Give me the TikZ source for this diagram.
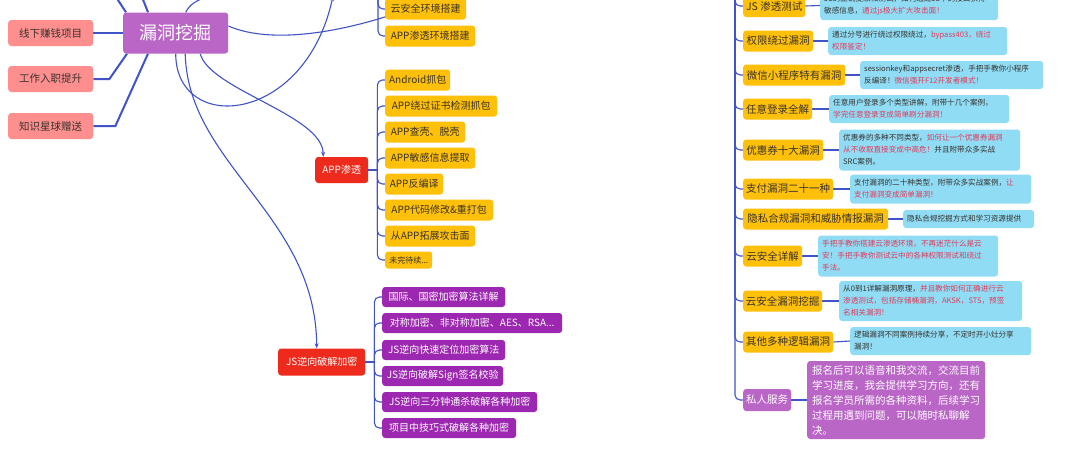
\documentclass[tikz,border=0pt]{standalone}
\usepackage{fontspec}
\setmainfont{Noto Sans CJK SC}
\usetikzlibrary{backgrounds,arrows.meta}
\newcommand{\myfs}[2]{\fontsize{#1}{#2}\selectfont}
\definecolor{lineblue}{RGB}{64,84,200}
\definecolor{salmon}{RGB}{255,143,143}
\definecolor{rootpurple}{RGB}{185,102,198}
\definecolor{redbox}{RGB}{238,42,28}
\definecolor{yel}{RGB}{255,192,10}
\definecolor{jspurple}{RGB}{156,39,176}
\definecolor{lightblue}{RGB}{144,220,245}
\definecolor{redtxt}{RGB}{226,58,88}
\definecolor{darktxt}{RGB}{55,50,45}
\newcommand{\redt}[1]{\textcolor{redtxt}{#1}}
\tikzset{
  conn/.style={draw=lineblue, line width=1.1pt},
  thickconn/.style={draw=lineblue, line width=2pt},
  arr/.style={conn, -{Stealth[length=5pt,width=4pt]}},
  box/.style={rounded corners=3pt, inner sep=0pt, align=center, anchor=west},
  leftbox/.style={box, fill=salmon, text=darktxt, minimum width=85pt, minimum height=26pt, font=\myfs{10.5}{12}},
  rootbox/.style={box, fill=rootpurple, text=white, minimum width=105pt, minimum height=41pt, font=\myfs{18}{20}},
  rednode/.style={box, fill=redbox, text=white, minimum height=26pt, font=\myfs{10}{12}},
  ybox/.style={box, fill=yel, text=darktxt, minimum height=21pt, font=\myfs{10}{12}},
  pbox/.style={box, fill=jspurple, text=white, minimum height=20pt, font=\myfs{10}{12}},
  rbox/.style={box, fill=yel, text=darktxt, minimum height=21pt, font=\myfs{10.5}{12}},
  desc/.style={box, fill=lightblue, text=darktxt, align=left, inner xsep=4pt, inner ysep=2pt, font=\myfs{7.6}{12}},
}
\begin{document}
\begin{tikzpicture}[x=1pt,y=-1pt]
\useasboundingbox (0,0) rectangle (1080,451);
\clip (0,0) rectangle (1080,451);
% left
\node[leftbox] (n1) at (8,33) {线下赚钱项目};
\node[leftbox] (n2) at (8,79) {工作入职提升};
\node[leftbox] (n3) at (8,126) {知识星球赠送};
\node[rootbox] (root) at (123,33) {漏洞挖掘};
% middle top
\node[ybox, minimum width=81pt] (yun) at (385,9) {云安全环境搭建};
\node[ybox, minimum width=90pt] (appenv) at (385,36) {APP渗透环境搭建};
% APP
\node[rednode, minimum width=53pt] (app) at (315,170) {APP渗透};
\node[ybox, minimum width=65pt] (a1) at (385,80) {Android抓包};
\node[ybox, minimum width=112pt] (a2) at (385,106) {APP绕过证书检测抓包};
\node[ybox, minimum width=80pt] (a3) at (385,132) {APP查壳、脱壳};
\node[ybox, minimum width=90pt] (a4) at (385,158) {APP敏感信息提取};
\node[ybox, minimum width=58pt] (a5) at (385,184) {APP反编译};
\node[ybox, minimum width=108pt] (a6) at (385,210) {APP代码修改\&重打包};
\node[ybox, minimum width=90pt] (a7) at (385,236) {从APP拓展攻击面};
\node[ybox, minimum width=47pt, minimum height=17pt, font=\myfs{8}{10}] (a8) at (385,260) {未完待续...};
% JS
\node[rednode, minimum width=87pt, minimum height=27pt] (js) at (278,362) {JS逆向破解加密};
\node[pbox, minimum width=123pt] (j1) at (382,297) {国际、国密加密算法详解};
\node[pbox, minimum width=180pt] (j2) at (382,323) {对称加密、非对称加密、AES、RSA...};
\node[pbox, minimum width=123pt] (j3) at (382,350) {JS逆向快速定位加密算法};
\node[pbox, minimum width=121pt] (j4) at (382,376) {JS逆向破解Sign签名校验};
\node[pbox, minimum width=155pt] (j5) at (382,402) {JS逆向三分钟通杀破解各种加密};
\node[pbox, minimum width=134pt] (j6) at (382,428) {项目中技巧式破解各种加密};
% right column
\node[rbox, minimum width=62pt, minimum height=22pt] (r1) at (743,6) {JS 渗透测试};
\node[rbox, minimum width=70pt] (r2) at (743,41) {权限绕过漏洞};
\node[rbox, minimum width=102pt] (r3) at (743,75) {微信小程序特有漏洞};
\node[rbox, minimum width=69pt] (r4) at (743,109) {任意登录全解};
\node[rbox, minimum width=80pt] (r5) at (743,150) {优惠券十大漏洞};
\node[rbox, minimum width=90pt] (r6) at (743,189) {支付漏洞二十一种};
\node[rbox, minimum width=145pt] (r7) at (743,219) {隐私合规漏洞和威胁情报漏洞};
\node[rbox, minimum width=59pt] (r8) at (743,256) {云安全详解};
\node[rbox, minimum width=79pt] (r9) at (743,301) {云安全漏洞挖掘};
\node[rbox, minimum width=90pt] (r10) at (743,342) {其他多种逻辑漏洞};
\node[rbox, fill=rootpurple, text=white, minimum width=48pt, minimum height=22pt] (r11) at (743,400) {私人服务};
% descriptions
\node[desc, text width=170pt, minimum height=29pt] (d1) at (820,5.5) {JS的正确提取和测试，如何通过JS中的接口获得\\敏感信息，\redt{通过js极大扩大攻击面！}};
\node[desc, text width=171pt, minimum height=28pt] (d2) at (828,41) {通过分号进行绕过权限绕过，\redt{bypass403，绕过}\\\redt{权限鉴定！}};
\node[desc, text width=175pt, minimum height=28pt] (d3) at (860,75) {sessionkey和appsecret渗透，手把手教你小程序\\反编译！\redt{微信强开F12开发者模式！}};
\node[desc, text width=172pt, minimum height=28pt] (d4) at (829,109) {任意用户登录多个类型讲解，附带十几个案例，\\\redt{学完任意登录变成简单刷分漏洞！}};
\node[desc, text width=173pt, minimum height=41pt] (d5) at (839,150) {优惠券的多种不同类型，\redt{如何让一个优惠券漏洞}\\\redt{从不收取直接变成中高危！}并且附带众多实战\\SRC案例。};
\node[desc, text width=173pt, minimum height=29pt] (d6) at (850,189) {支付漏洞的二十种类型，附带众多实战案例，\redt{让}\\\redt{支付漏洞变成简单漏洞！}};
\node[desc, text width=123pt, minimum height=18pt] (d7) at (903,219) {隐私合规挖掘方式和学习资源提供};
\node[desc, text width=172pt, minimum height=41pt, text=redtxt] (d8) at (818,256) {手把手教你搭建云渗透环境，不再迷茫什么是云\\安！手把手教你测试云中的各种权限测试和绕过\\手法。};
\node[desc, text width=175pt, minimum height=40pt] (d9) at (839,301) {从0到1详解漏洞原理，\redt{并且教你如何正确进行云}\\\redt{渗透测试，包括存储桶漏洞，AKSK，STS，预签}\\\redt{名相关漏洞！}};
\node[desc, text width=173pt, minimum height=28pt] (d10) at (850,341) {逻辑漏洞不同案例持续分享，不定时开小灶分享\\漏洞！};
\node[desc, fill=rootpurple, text=white, inner xsep=5pt, text width=168pt, minimum height=78pt, font=\myfs{10.5}{15}] (d11) at (807,400) {报名后可以语音和我交流，交流目前\\学习进度，我会提供学习方向，还有\\报名学员所需的各种资料，后续学习\\过程用遇到问题，可以随时私聊解\\决。};
% free ends
\coordinate (ul1) at (116,-3);
\coordinate (ul2) at (142,-3);
\coordinate (up3) at (206,-3);
\coordinate (upr) at (452,-8);
\coordinate (upa) at (333,-4);
\coordinate (rtop) at (735,-12);
\coordinate (mtop) at (378,-12);
\coordinate (appj) at ([xshift=9pt]app.east);
\coordinate (jsj) at ([xshift=9pt]js.east);
\begin{pgfonlayer}{background}
\fill[white] (0,0) rectangle (1080,451);
\draw[thickconn] (root.west) -- (n1.east);
\draw[thickconn] (n2.east) -- ++(16,0) -- ([xshift=4pt]root.south west);
\draw[thickconn] (n3.east) -- ++(22,0) -- ([xshift=25pt]root.south west);
\draw[thickconn] ([xshift=3pt]root.north west) -- (ul1);
\draw[thickconn] ([xshift=25pt]root.north west) -- (ul2);
\draw[conn] ([xshift=10pt]root.north) .. controls (190,4) and (196,1) .. (up3);
\draw[conn] ([yshift=7pt]root.east) .. controls (265,42) and (325,36) .. (388,16) .. controls (415,8) and (435,0) .. (upr);
\draw[arr] (root.south) .. controls (176,135) and (305,125) .. (upa);
\draw[arr] ([xshift=9.5pt]root.south) .. controls (188,165) and (316,215) .. ([xshift=-5pt]js.north);
\draw[arr] ([xshift=24.5pt]root.south) .. controls (210,90) and (323,115) .. ([xshift=-18.5pt]app.north);
\foreach \c in {yun,appenv} \draw[conn, rounded corners=5pt] (mtop) |- (\c.west);
\draw[conn] (app.east) -- (appj);
\foreach \c in {a1,a2,a3,a4,a5,a6,a7,a8} \draw[conn, rounded corners=5pt] (appj) |- (\c.west);
\draw[conn] (js.east) -- (jsj);
\foreach \c in {j1,j2,j3,j4,j5,j6} \draw[conn, rounded corners=5pt] (jsj) |- (\c.west);
\foreach \c in {r1,r2,r3,r4,r5,r6,r7,r8,r9,r10,r11} \draw[conn, rounded corners=5pt] (rtop) |- (\c.west);
\foreach \c/\d in {r1/d1,r2/d2,r3/d3,r4/d4,r5/d5,r6/d6,r7/d7,r8/d8,r9/d9,r10/d10,r11/d11} \draw[conn] (\c.east) -- (\d.west);
\end{pgfonlayer}
\end{tikzpicture}
\end{document}
